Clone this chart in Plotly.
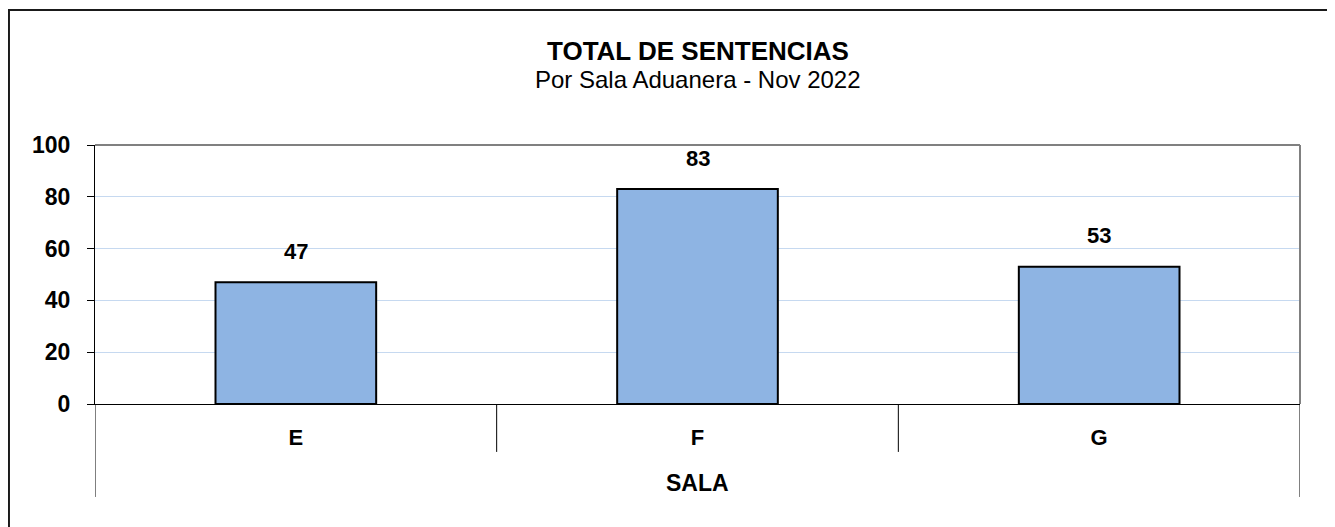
import plotly.graph_objects as go

categories = ["E", "F", "G"]
values = [47, 83, 53]
y_ticks = [0, 20, 40, 60, 80, 100]

title_text = "TOTAL DE SENTENCIAS"
subtitle_text = "Por Sala Aduanera - Nov 2022"
x_title = "SALA"

FONT = "Liberation Sans, Arial, sans-serif"

fig = go.Figure()
fig.add_trace(go.Bar(
    x=categories, y=values,
    marker=dict(color="#8eb4e3", line=dict(color="#000000", width=2)),
    width=0.4, hoverinfo="x+y",
))

annotations = []
for c, v in zip(categories, values):
    annotations.append(dict(x=c, y=v, xref="x", yref="y", text=f"<b>{v}</b>",
                            showarrow=False, yanchor="middle", yshift=31,
                            font=dict(family=FONT, size=22, color="#000")))
annotations.append(dict(x=0.5, y=1.363, xref="paper", yref="paper",
                        text=f"<b>{title_text}</b>", showarrow=False,
                        yanchor="middle", xanchor="center",
                        font=dict(family=FONT, size=26, color="#000")))
annotations.append(dict(x=0.5, y=1.252, xref="paper", yref="paper",
                        text=subtitle_text, showarrow=False,
                        yanchor="middle", xanchor="center",
                        font=dict(family=FONT, size=24, color="#000")))
annotations.append(dict(x=0.5, y=-0.305, xref="paper", yref="paper",
                        text=f"<b>{x_title}</b>", showarrow=False,
                        yanchor="middle", xanchor="center",
                        font=dict(family=FONT, size=23, color="#000")))

shapes = [
    # outer border
    dict(type="rect", xref="paper", yref="paper", x0=-0.0714, x1=1.0257,
         y0=-0.6, y1=1.521, line=dict(color="#1a1a1a", width=2), layer="below"),
    # plot top and right border
    dict(type="line", xref="paper", yref="paper", x0=0, x1=1, y0=1, y1=1,
         line=dict(color="#808080", width=2)),
    dict(type="line", xref="paper", yref="paper", x0=1, x1=1, y0=0, y1=1,
         line=dict(color="#808080", width=2)),
]
n = len(categories)
for i in range(n + 1):
    pos = i - 0.5
    y0 = -0.359 if i in (0, n) else -0.185
    shapes.append(dict(type="line", xref="x", yref="paper", x0=pos, x1=pos,
                       y0=y0, y1=0, line=dict(color="#000000", width=1)))

# page body has an 8px margin; compensate so the plot lands at the same pixels
fig.update_layout(
    width=1327, height=519, autosize=False,
    margin=dict(l=87, r=35, t=137, b=123),
    paper_bgcolor="#ffffff", plot_bgcolor="#ffffff",
    showlegend=False, bargap=0.6,
    annotations=annotations, shapes=shapes,
    font=dict(family=FONT, color="#000"),
)
fig.update_xaxes(
    range=[-0.5, 2.5], showline=True, linecolor="#000", linewidth=1,
    showgrid=False, ticks="", tickfont=dict(family=FONT, size=22, color="#000"),
    ticklabelstandoff=14, tickvals=categories,
    ticktext=[f"<b>{c}</b>" for c in categories],
)
fig.update_yaxes(
    range=[0, 100], tickvals=y_ticks, ticktext=[f"<b>{t}</b>" for t in y_ticks],
    showline=True, linecolor="#000", linewidth=1,
    ticks="outside", ticklen=7, tickcolor="#000",
    showgrid=True, gridcolor="#c6d9f0", gridwidth=1, zeroline=False,
    tickfont=dict(family=FONT, size=23, color="#000"), ticklabelstandoff=12,
)

fig.write_html("out.html")
